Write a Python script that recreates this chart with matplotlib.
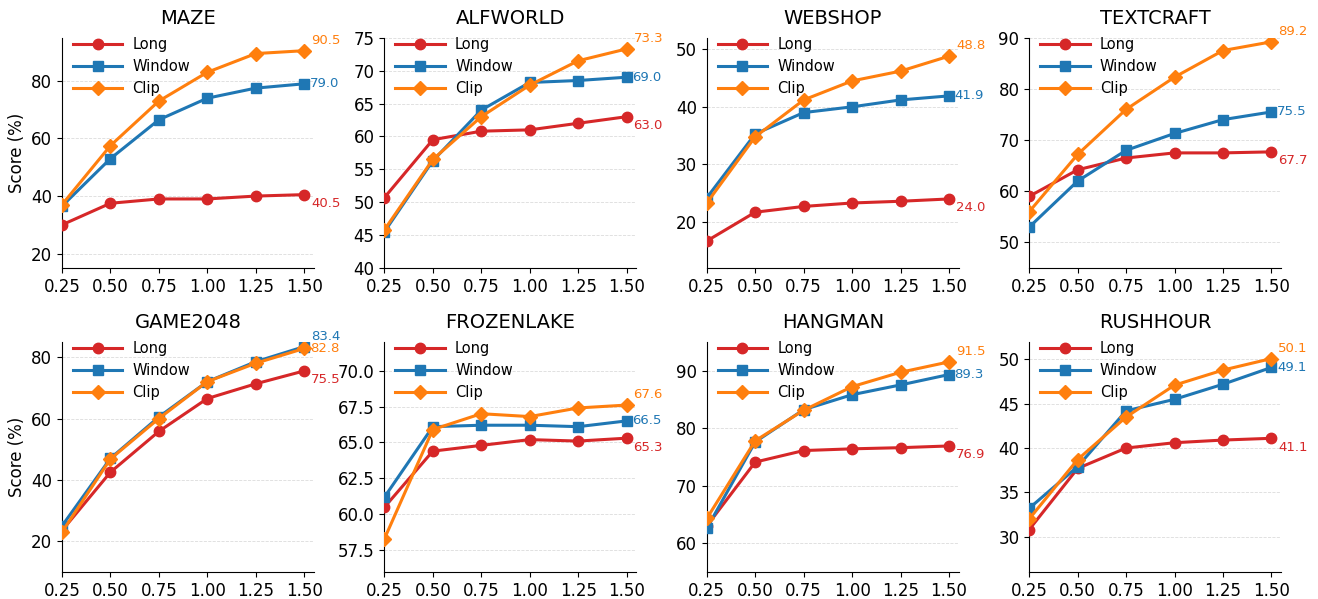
import numpy as np
import matplotlib
matplotlib.use("Agg")
import matplotlib.pyplot as plt
from matplotlib.ticker import MultipleLocator

x = [0.25, 0.50, 0.75, 1.00, 1.25, 1.50]
tasks = ["MAZE", "ALFWORLD", "WEBSHOP", "TEXTCRAFT",
         "GAME2048", "FROZENLAKE", "HANGMAN", "RUSHHOUR"]

long_scores = [
    [30.0, 37.5, 39.0, 39.0, 40.0, 40.5],
    [50.7, 59.5, 60.8, 61.0, 62.0, 63.0],
    [16.7, 21.7, 22.7, 23.3, 23.6, 24.0],
    [59.0, 64.2, 66.5, 67.5, 67.5, 67.7],
    [23.5, 42.5, 55.8, 66.5, 71.3, 75.5],
    [60.5, 64.4, 64.8, 65.2, 65.1, 65.3],
    [63.0, 74.1, 76.1, 76.4, 76.6, 76.9],
    [30.8, 37.7, 40.0, 40.6, 40.9, 41.1],
]
window_scores = [
    [36.5, 53.0, 66.5, 74.0, 77.5, 79.0],
    [45.5, 56.3, 64.0, 68.2, 68.5, 69.0],
    [24.2, 35.3, 39.0, 40.0, 41.2, 41.9],
    [53.0, 62.0, 68.0, 71.3, 74.0, 75.5],
    [25.0, 47.0, 60.5, 72.0, 78.5, 83.4],
    [61.2, 66.1, 66.2, 66.2, 66.1, 66.5],
    [62.6, 77.6, 83.2, 85.8, 87.5, 89.3],
    [33.2, 37.9, 44.2, 45.5, 47.2, 49.1],
]
clip_scores = [
    [37.0, 57.5, 73.0, 83.0, 89.5, 90.5],
    [45.8, 56.5, 63.0, 67.8, 71.5, 73.3],
    [23.3, 34.8, 41.2, 44.5, 46.2, 48.8],
    [56.0, 67.2, 76.0, 82.3, 87.5, 89.2],
    [23.0, 46.8, 60.0, 72.0, 78.0, 82.8],
    [58.3, 65.9, 67.0, 66.8, 67.4, 67.6],
    [64.3, 77.8, 83.1, 87.2, 89.7, 91.5],
    [32.0, 38.7, 43.5, 47.1, 48.8, 50.1],
]
ylims = [(15, 95), (40, 75), (12, 52), (45, 90),
         (10, 85), (56, 72), (55, 95), (26, 52)]
ytick_steps = [20, 5, 10, 10, 20, 2.5, 10, 5]

series = [
    ("Long", long_scores, "#d62728", "o"),
    ("Window", window_scores, "#1f77b4", "s"),
    ("Clip", clip_scores, "#ff7f0e", "D"),
]
# label offsets by rank of the final value: lowest, middle, highest
rank_offsets = [(5, -6.5), (4, 0), (5, 7.5)]

fig, axes = plt.subplots(2, 4, figsize=(13.18, 5.99), dpi=100)
fig.subplots_adjust(left=0.047, right=0.972, top=0.937, bottom=0.045,
                    wspace=0.28, hspace=0.32)

for k, ax in enumerate(axes.flat):
    finals = [s[1][k][-1] for s in series]
    order = np.argsort(finals)
    for name, data, color, marker in series:
        ax.plot(x, data[k], color=color, marker=marker, lw=2.2, ms=7.5,
                label=name, zorder=3)
    for r, idx in enumerate(order):
        name, data, color, marker = series[idx]
        ax.annotate("%.1f" % data[k][-1], (x[-1], data[k][-1]),
                    xytext=rank_offsets[r], textcoords="offset points",
                    color=color, fontsize=9.5, va="center", ha="left",
                    annotation_clip=False)
    ax.set_title(tasks[k], fontsize=14, pad=10)
    ax.set_xlim(0.25, 1.55)
    ax.set_xticks(x)
    ax.set_xticklabels(["%.2f" % v for v in x])
    ax.set_ylim(*ylims[k])
    ax.yaxis.set_major_locator(MultipleLocator(ytick_steps[k]))
    if ytick_steps[k] < 5:
        ax.yaxis.set_major_formatter("{x:.1f}")
    ax.tick_params(labelsize=12)
    ax.grid(axis="y", ls="--", lw=0.6, color="#cccccc", alpha=0.7)
    ax.spines["top"].set_visible(False)
    ax.spines["right"].set_visible(False)
    ax.legend(loc="upper left", bbox_to_anchor=(0.02, 1.03), frameon=False,
              fontsize=10.5, borderaxespad=0, borderpad=0.4,
              handlelength=3.4, handletextpad=0.7, labelspacing=0.5)
    if k % 4 == 0:
        ax.set_ylabel("Score (%)", fontsize=12)

fig.savefig("out.png", dpi=100)
